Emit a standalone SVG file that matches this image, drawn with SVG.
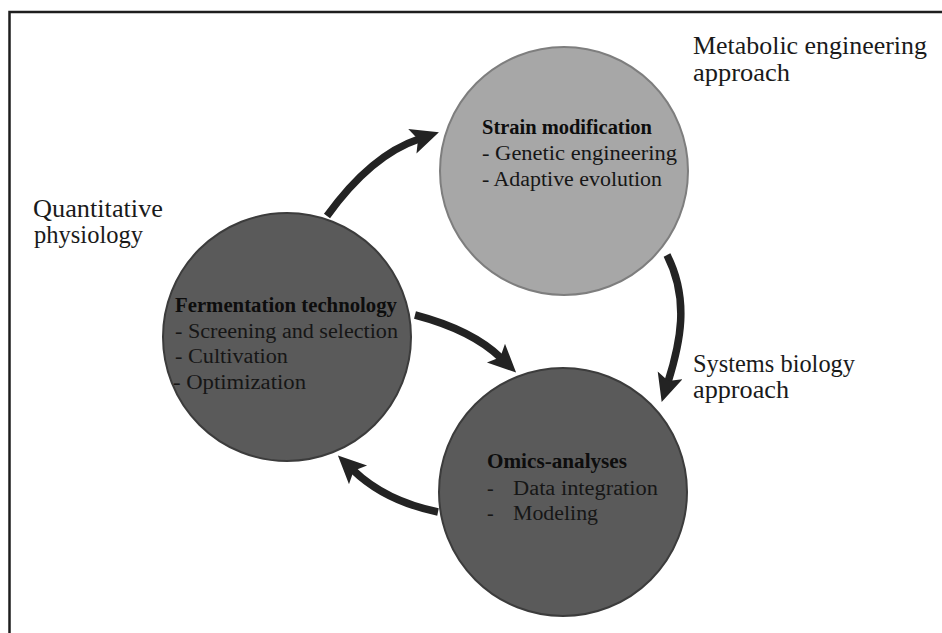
<svg xmlns="http://www.w3.org/2000/svg" width="942" height="633" viewBox="0 0 942 633">
<style>
.frame{stroke:#1e1e1e;stroke-width:2.5;fill:none}
.light{fill:#a7a7a7;stroke:#7e7e7e;stroke-width:2}
.dark{fill:#5a5a5a;stroke:#3c3c3c;stroke-width:2}
.t{font-family:"Liberation Serif","Times New Roman",serif;font-size:20px;fill:#161616}
.b{font-family:"Liberation Serif","Times New Roman",serif;font-size:20px;font-weight:bold;fill:#0d0d0d}
.lab{font-family:"Liberation Serif","Times New Roman",serif;font-size:25px;fill:#1a1a1a}
.arr{fill:none;stroke:#232323;stroke-width:7.5;marker-end:url(#ah)}
</style>
<defs>
<marker id="ah" markerUnits="userSpaceOnUse" markerWidth="30" markerHeight="28" refX="7" refY="13" orient="auto">
<path d="M0,0 L28,13 L0,26 L6,13 z" fill="#232323"/>
</marker>
</defs>
<rect x="0" y="0" width="942" height="633" fill="#ffffff"/>
<path class="frame" d="M9.5,633 L9.5,12 L942,12"/>

<g id="label-metabolic">
<text class="lab" x="693" y="54" textLength="234" lengthAdjust="spacingAndGlyphs">Metabolic engineering</text>
<text class="lab" x="693" y="81" textLength="97" lengthAdjust="spacingAndGlyphs">approach</text>
</g>
<g id="label-quantitative">
<text class="lab" x="33" y="217" textLength="130" lengthAdjust="spacingAndGlyphs">Quantitative</text>
<text class="lab" x="34" y="243" textLength="109" lengthAdjust="spacingAndGlyphs">physiology</text>
</g>
<g id="label-systems">
<text class="lab" x="693" y="372" textLength="162" lengthAdjust="spacingAndGlyphs">Systems biology</text>
<text class="lab" x="693" y="398" textLength="96" lengthAdjust="spacingAndGlyphs">approach</text>
</g>

<g id="connectors">
<path class="arr" d="M327,216 Q371,155 419,139"/>
<path class="arr" d="M667,255 C690,300 680,344 668,382"/>
<path class="arr" d="M415,315 Q472,330 501,358"/>
<path class="arr" d="M438,512 Q385,501 353,470"/>
</g>

<g id="node-strain">
<circle class="light" cx="564" cy="171" r="124"/>
<text class="b" x="482" y="134" textLength="170" lengthAdjust="spacingAndGlyphs">Strain modification</text>
<text class="t" x="482" y="160" textLength="195" lengthAdjust="spacingAndGlyphs">- Genetic engineering</text>
<text class="t" x="482" y="186" textLength="180" lengthAdjust="spacingAndGlyphs">- Adaptive evolution</text>
</g>

<g id="node-fermentation">
<circle class="dark" cx="287" cy="337" r="124"/>
<text class="b" x="175" y="312" textLength="222" lengthAdjust="spacingAndGlyphs">Fermentation technology</text>
<text class="t" x="175" y="338" textLength="223" lengthAdjust="spacingAndGlyphs">- Screening and selection</text>
<text class="t" x="175" y="363" textLength="113" lengthAdjust="spacingAndGlyphs">- Cultivation</text>
<text class="t" x="173" y="389" textLength="133" lengthAdjust="spacingAndGlyphs">- Optimization</text>
</g>

<g id="node-omics">
<circle class="dark" cx="563" cy="492" r="124"/>
<text class="b" x="487" y="468" textLength="140" lengthAdjust="spacingAndGlyphs">Omics-analyses</text>
<text class="t" x="487" y="495">-</text>
<text class="t" x="513" y="495" textLength="145" lengthAdjust="spacingAndGlyphs">Data integration</text>
<text class="t" x="487" y="520">-</text>
<text class="t" x="513" y="520" textLength="85" lengthAdjust="spacingAndGlyphs">Modeling</text>
</g>
</svg>
